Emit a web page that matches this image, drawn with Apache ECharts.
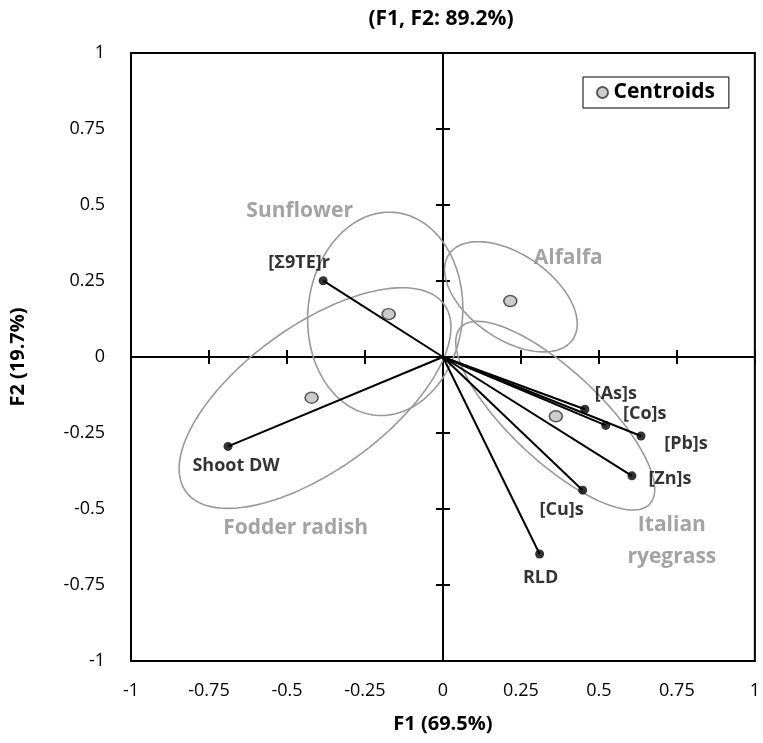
<!DOCTYPE html>
<html><head><meta charset="utf-8">
<script src="https://cdn.jsdelivr.net/npm/echarts@6/dist/echarts.min.js"></script>
<style>html,body{margin:0;padding:0;background:#fff}#c{width:763px;height:743px}</style>
</head><body><div id="c"></div>
<script>
// ---- data ----
const tickValues = [-1, -0.75, -0.5, -0.25, 0, 0.25, 0.5, 0.75, 1];
const tickLabels = ['-1', '-0.75', '-0.5', '-0.25', '0', '0.25', '0.5', '0.75', '1'];

const loadingNames = ['[Σ9TE]r', 'Shoot DW', '[As]s', '[Co]s', '[Pb]s', '[Zn]s', '[Cu]s', 'RLD'];
const loadingF1 = [-0.384, -0.689, 0.455, 0.522, 0.635, 0.606, 0.448, 0.310];
const loadingF2 = [0.251, -0.294, -0.172, -0.225, -0.260, -0.391, -0.438, -0.648];

const groupNames = ['Sunflower', 'Alfalfa', 'Fodder radish', 'Italian\nryegrass'];
const centroidF1 = [-0.174, 0.216, -0.421, 0.362];
const centroidF2 = [0.141, 0.184, -0.134, -0.195];

// confidence ellipses: centre, semi-axes, rotation (degrees)
const ellipseCenterF1 = [-0.185, 0.218, -0.410, 0.360];
const ellipseCenterF2 = [0.142, 0.198, -0.135, -0.193];
const ellipseSemiA = [0.248, 0.243, 0.516, 0.420];
const ellipseSemiB = [0.335, 0.138, 0.235, 0.147];
const ellipseAngle = [-5, -36, 37, -44];

const titleText = '(F1, F2: 89.2%)';
const xName = 'F1 (69.5%)';
const yName = 'F2 (19.7%)';

// ---- styles (pixel offsets for labels) ----
const FONT = '"Open Sans", "Noto Sans", sans-serif';
const loadingLabelOffset = {
  '[Σ9TE]r': [-24, -18], 'Shoot DW': [8, 19], '[As]s': [31, -15], '[Co]s': [39, -12],
  '[Pb]s': [45, 8], '[Zn]s': [38, 3], '[Cu]s': [-21, 20], 'RLD': [1, 24]
};
const groupLabelOffset = {
  'Sunflower': [-89, -103], 'Alfalfa': [58, -43], 'Fodder radish': [-16, 130], 'Italian\nryegrass': [116, 125]
};

function ellipsePoints(i) {
  const pts = [];
  const th = ellipseAngle[i] * Math.PI / 180;
  const n = 160;
  for (let k = 0; k <= n; k++) {
    const t = 2 * Math.PI * k / n;
    const u = ellipseSemiA[i] * Math.cos(t), v = ellipseSemiB[i] * Math.sin(t);
    pts.push([ellipseCenterF1[i] + u * Math.cos(th) - v * Math.sin(th),
              ellipseCenterF2[i] + u * Math.sin(th) + v * Math.cos(th)]);
  }
  return pts;
}
const fmt = v => { const i = tickValues.findIndex(t => Math.abs(t - v) < 1e-9); return i >= 0 ? tickLabels[i] : ''; };

const chart = echarts.init(document.getElementById('c'), null, { renderer: 'canvas' });

const baseAxis = { type: 'value', min: -1, max: 1, interval: 0.25, splitLine: { show: false } };
const zeroAxis = (inside) => Object.assign({}, baseAxis, {
  axisLine: { show: true, onZero: true, lineStyle: { color: '#000', width: 2 } },
  axisTick: { show: true, inside: inside, length: 7, lineStyle: { color: '#000', width: 2 } },
  axisLabel: { show: false }
});

const series = [];
groupNames.forEach((g, i) => {
  series.push({
    type: 'line', name: 'ellipse' + i, data: ellipsePoints(i), showSymbol: false, symbol: 'none',
    silent: true, z: 1, lineStyle: { color: '#999999', width: 1.6 }
  });
});
series.push({
  type: 'lines', coordinateSystem: 'cartesian2d', silent: true, z: 3,
  lineStyle: { color: '#000', width: 2, opacity: 1 },
  data: loadingNames.map((n, i) => ({ coords: [[0, 0], [loadingF1[i], loadingF2[i]]] }))
});
series.push({
  type: 'scatter', name: 'loadings', symbol: 'circle', symbolSize: 9, z: 4,
  itemStyle: { color: '#000' },
  data: loadingNames.map((n, i) => ({
    value: [loadingF1[i], loadingF2[i]], name: n,
    label: { show: true, position: 'inside', offset: loadingLabelOffset[n], formatter: n,
      color: '#000', fontFamily: FONT, fontWeight: 'bold', fontSize: 18 }
  }))
});
series.push({
  type: 'scatter', name: 'Centroids', symbol: 'circle', symbolSize: [13, 11], z: 5,
  itemStyle: { color: '#bfbfbf', borderColor: '#333', borderWidth: 1.5 },
  data: groupNames.map((g, i) => ({
    value: [centroidF1[i], centroidF2[i]], name: g,
    label: { show: true, position: 'inside', offset: groupLabelOffset[g], formatter: g,
      color: '#8c8c8c', fontFamily: FONT, fontWeight: 'bold', fontSize: 21, lineHeight: 32, align: 'center' }
  }))
});

chart.setOption({
  animation: false,
  backgroundColor: '#fff',
  graphic: [{
    type: 'text', x: 441, y: 19, silent: true,
    style: { text: titleText, align: 'center', verticalAlign: 'middle', fill: '#000',
      fontFamily: FONT, fontWeight: 'bold', fontSize: 21 }
  }],
  legend: {
    data: ['Centroids'], left: 583, top: 77, orient: 'horizontal',
    borderColor: '#000', borderWidth: 1, padding: [5, 14, 5, 13],
    icon: 'circle', itemWidth: 12, itemHeight: 11, itemGap: 6,
    textStyle: { fontFamily: FONT, fontWeight: 'bold', fontSize: 21, color: '#000' }
  },
  grid: { left: 129, right: 6, top: 53, bottom: 82, show: true, borderColor: '#000', borderWidth: 2, backgroundColor: 'transparent' },
  xAxis: [
    Object.assign({}, baseAxis, {
      position: 'bottom', axisLine: { show: false, onZero: false }, axisTick: { show: false },
      axisLabel: { margin: 21, fontSize: 18, color: '#000', fontFamily: FONT, formatter: fmt },
      name: xName, nameLocation: 'middle', nameGap: 53,
      nameTextStyle: { fontFamily: FONT, fontWeight: 'bold', fontSize: 20, color: '#000' }
    }),
    zeroAxis(false), zeroAxis(true)
  ],
  yAxis: [
    Object.assign({}, baseAxis, {
      position: 'left', axisLine: { show: false, onZero: false }, axisTick: { show: false },
      axisLabel: { margin: 26, fontSize: 18, color: '#000', fontFamily: FONT, formatter: fmt },
      name: yName, nameLocation: 'middle', nameGap: 103,
      nameTextStyle: { fontFamily: FONT, fontWeight: 'bold', fontSize: 20, color: '#000' }
    }),
    zeroAxis(false), zeroAxis(true)
  ],
  series: series
});
</script></body></html>
